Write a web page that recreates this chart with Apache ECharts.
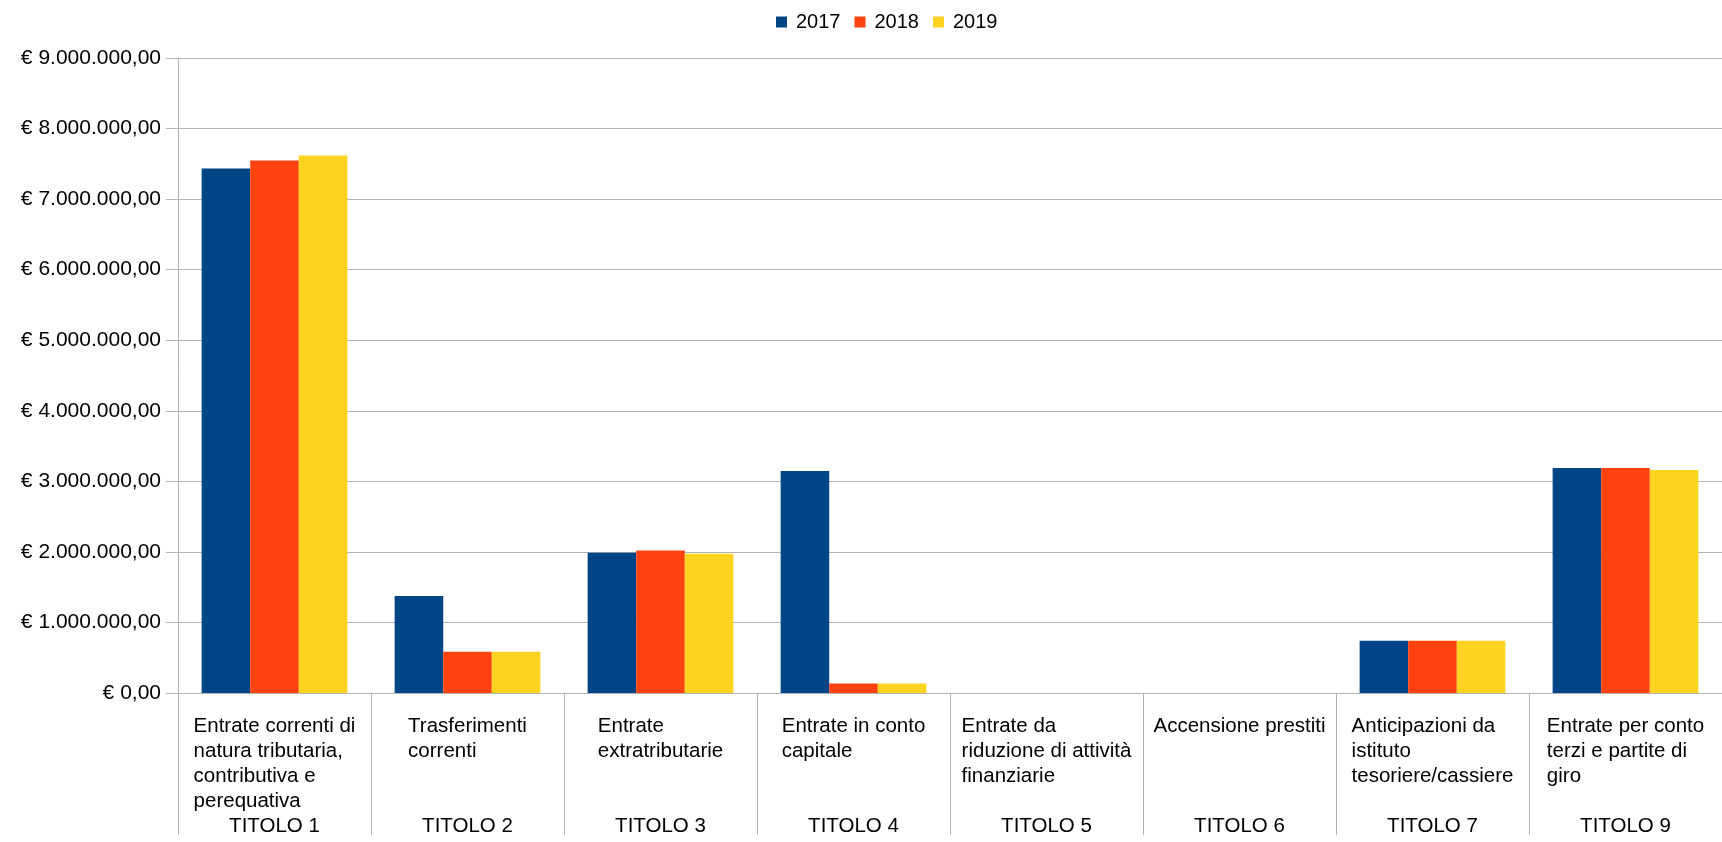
<!DOCTYPE html>
<html>
<head>
<meta charset="utf-8">
<title>Entrate per titolo</title>
<script src="https://cdn.jsdelivr.net/npm/echarts@6/dist/echarts.min.js"></script>
<style>
  * { margin: 0; padding: 0; }
  html, body { width: 1722px; height: 842px; background: #fff; overflow: hidden; }
  #main { width: 1722px; height: 842px; }
</style>
</head>
<body>
<div id="main"></div>
<script>
  // dati
  var titoli = ['TITOLO 1', 'TITOLO 2', 'TITOLO 3', 'TITOLO 4', 'TITOLO 5', 'TITOLO 6', 'TITOLO 7', 'TITOLO 9'];
  var descrizioni = [
    'Entrate correnti di\nnatura tributaria,\ncontributiva e\nperequativa',
    'Trasferimenti\ncorrenti',
    'Entrate\nextratributarie',
    'Entrate in conto\ncapitale',
    'Entrate da\nriduzione di attività\nfinanziarie',
    'Accensione prestiti',
    'Anticipazioni da\nistituto\ntesoriere/cassiere',
    'Entrate per conto\nterzi e partite di\ngiro'
  ];
  var anni = ['2017', '2018', '2019'];
  var v2017 = [7434000, 1376000, 1988000, 3147000, 0, 0, 742000, 3189000];
  var v2018 = [7549000, 586000, 2021000, 133000, 0, 0, 742000, 3189000];
  var v2019 = [7617000, 586000, 1973000, 133000, 0, 0, 742000, 3161000];
  var yTicks = [0, 9000000, 1000000]; // min, max, passo

  var font = 'Liberation Sans';
  var grigio = '#b3b3b3';

  // formato € 1.000.000,00
  function euro(v) {
    var s = Math.round(v).toString().replace(/\B(?=(\d{3})+(?!\d))/g, '.');
    return '€ ' + s + ',00';
  }

  var chart = echarts.init(document.getElementById('main'));
  chart.setOption({
    animation: false,
    color: ['#004586', '#ff420e', '#ffd320'],
    legend: {
      data: anni,
      left: 771,
      top: 7,
      itemWidth: 11,
      itemHeight: 11,
      itemGap: 14,
      icon: 'rect',
      textStyle: { fontFamily: font, fontSize: 20, color: '#000', padding: [0, 0, 0, 4] }
    },
    grid: { left: 178, top: 58, bottom: 149, right: -8 },
    xAxis: [
      {
        type: 'category',
        data: titoli,
        axisLine: { show: true, lineStyle: { color: grigio } },
        axisTick: { show: true, interval: 0, length: 142, lineStyle: { color: grigio } },
        axisLabel: {
          interval: 0,
          margin: 21,
          formatter: function (val, i) { return '{d|' + descrizioni[i] + '}'; },
          rich: {
            d: { fontFamily: font, fontSize: 20.5, lineHeight: 25, color: '#000', align: 'left' }
          }
        }
      },
      {
        type: 'category',
        data: titoli,
        position: 'bottom',
        axisLine: { show: false, onZero: false },
        axisTick: { show: false },
        splitLine: { show: false },
        axisLabel: {
          interval: 0,
          margin: 121,
          fontFamily: font,
          fontSize: 20.5,
          lineHeight: 25,
          color: '#000'
        }
      }
    ],
    yAxis: {
      type: 'value',
      min: yTicks[0],
      max: yTicks[1],
      interval: yTicks[2],
      axisLine: { show: true, lineStyle: { color: grigio } },
      axisTick: { show: true, length: 12, lineStyle: { color: grigio } },
      splitLine: { show: true, lineStyle: { color: grigio } },
      axisLabel: {
        margin: 17,
        fontFamily: font,
        fontSize: 21,
        color: '#000',
        formatter: euro
      }
    },
    series: [
      { name: anni[0], type: 'bar', data: v2017, barGap: 0, barCategoryGap: '24.5%' },
      { name: anni[1], type: 'bar', data: v2018, barGap: 0, barCategoryGap: '24.5%' },
      { name: anni[2], type: 'bar', data: v2019, barGap: 0, barCategoryGap: '24.5%' }
    ]
  });
</script>
</body>
</html>
